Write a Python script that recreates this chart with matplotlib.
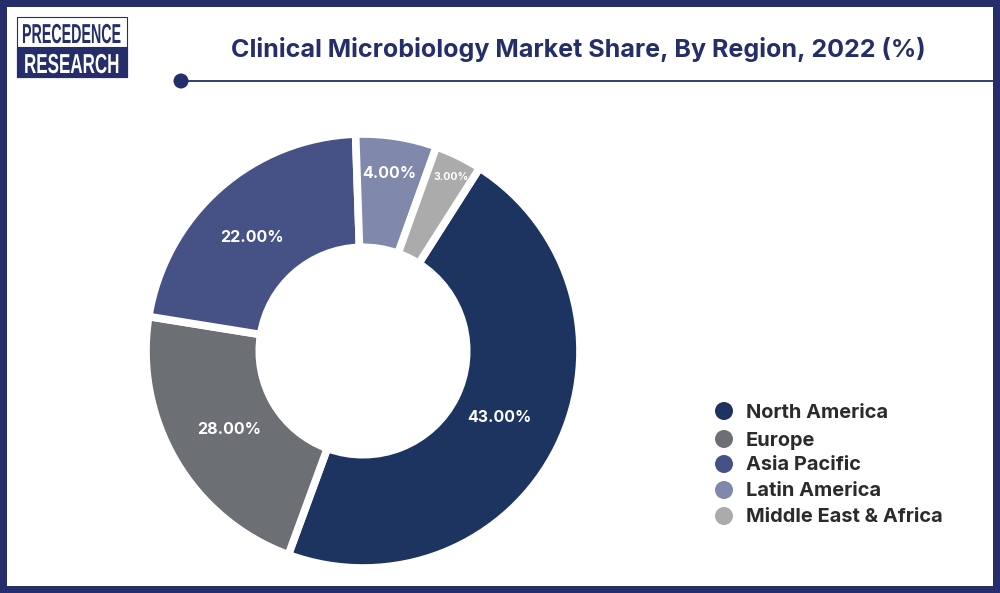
import matplotlib
matplotlib.use("Agg")
import matplotlib.pyplot as plt
from matplotlib.patches import Rectangle, Circle
from matplotlib.patheffects import AbstractPathEffect
from matplotlib.transforms import Affine2D

regions = ["North America", "Europe", "Asia Pacific", "Latin America", "Middle East & Africa"]
value_labels = ["43.00%", "28.00%", "22.00%", "4.00%", "3.00%"]
# The drawn arcs in the picture do not follow the printed labels exactly, so they are read separately.
arc_shares = [46.56, 21.95, 21.92, 6.03, 3.54]
colors = ["#1D3461", "#6C7075", "#465186", "#8088AB", "#ABABAB"]
title = "Clinical Microbiology Market Share, By Region, 2022 (%)"

W, H = 1000, 593
NAVY = "#252E6A"
FONT = ["Inter", "DejaVu Sans"]


class HScale(AbstractPathEffect):
    """Condense real text horizontally, measured from its left end."""
    def __init__(self, sx):
        super().__init__()
        self.sx = sx

    def draw_path(self, renderer, gc, tpath, affine, rgbFace=None):
        renderer.draw_path(gc, tpath, Affine2D().scale(self.sx, 1) + affine, rgbFace)


fig = plt.figure(figsize=(W / 100, H / 100), dpi=100, facecolor="white")

# pixel-space overlay
ov = fig.add_axes([0, 0, 1, 1], zorder=3)
ov.set_xlim(0, W); ov.set_ylim(H, 0); ov.axis("off"); ov.patch.set_alpha(0)

# donut
cx, cy, R = 363, 351, 217
ax = fig.add_axes([(cx - R) / W, 1 - (cy + R) / H, 2 * R / W, 2 * R / H], zorder=1)
ax.pie(arc_shares, colors=colors, startangle=57.5, counterclock=False, radius=1,
       wedgeprops=dict(width=1 - 103.7 / R, edgecolor="white", linewidth=5.5, joinstyle="miter"))
ax.set_xlim(-1, 1); ax.set_ylim(-1, 1); ax.set_aspect("equal")

# value labels
label_xy = [(499, 418), (229, 429), (252, 238), (389, 174), (451, 177)]
label_sizes = [11.5, 11.5, 11.5, 11.5, 7.6]
for (x, y), s, fs in zip(label_xy, value_labels, label_sizes):
    ov.text(x, y, s, color="white", fontsize=fs, fontweight="bold", family=FONT, ha="center", va="center")

# frame
for r in [(0, 0, W, 7), (0, 586, W, 7), (0, 0, 7, H), (993, 0, 7, H)]:
    ov.add_patch(Rectangle(r[:2], r[2], r[3], fc=NAVY, ec="none"))

# logo
ov.add_patch(Rectangle((17, 17), 110, 60, fc="white", ec=NAVY, lw=0.8))
ov.add_patch(Rectangle((17, 47), 110, 30, fc=NAVY, ec=NAVY, lw=0.8))
logo_words = [("PRECEDENCE", 22, 43, NAVY, 0.52), ("RESEARCH", 24, 73, "white", 0.62)]
for word, x, y, c, sx in logo_words:
    ov.text(x, y, word, color=c, fontsize=19.75, fontweight="bold", family=["Liberation Sans"],
            ha="left", va="baseline", path_effects=[HScale(sx)])

# title and rule
ov.text(578, 49, title, color=NAVY, fontsize=18.05, fontweight="bold", family=FONT, ha="center", va="center")
ov.plot([181, 995], [81, 81], color=NAVY, lw=1.3, solid_capstyle="butt")
ov.add_patch(Circle((181, 81), 7.5, fc=NAVY, ec="none"))

# legend
legend_y = [411, 439, 464, 490, 516]
for y, name, c in zip(legend_y, regions, colors):
    ov.add_patch(Circle((724, y), 9, fc=c, ec="none"))
    ov.text(746, y + 1.5, name, color="#2B2B2B", fontsize=14.4, fontweight="bold", family=FONT, ha="left", va="center")

fig.savefig("out.png", dpi=100, facecolor="white")
